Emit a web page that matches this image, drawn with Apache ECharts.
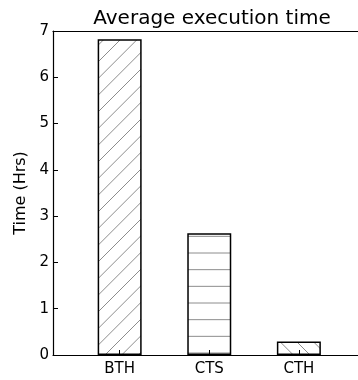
<!DOCTYPE html>
<html>
<head>
<meta charset="utf-8">
<script src="https://cdn.jsdelivr.net/npm/echarts@6/dist/echarts.min.js"></script>
<style>
html,body{margin:0;padding:0;background:#fff;}
#chart{width:358px;height:380px;}
</style>
</head>
<body>
<div id="chart"></div>
<script>
const categories = ['BTH', 'CTS', 'CTH'];
const times = [6.82, 2.63, 0.29];
const hatches = ['/', '-', '\\'];
const yTicks = [0, 1, 2, 3, 4, 5, 6, 7];

function makeHatch(kind) {
  const c = document.createElement('canvas');
  c.width = 100; c.height = 100;
  const g = c.getContext('2d');
  g.fillStyle = '#ffffff';
  g.fillRect(0, 0, 100, 100);
  g.strokeStyle = '#8c8c8c';
  g.lineWidth = 1;
  const step = 100 / 6;
  g.beginPath();
  if (kind === '-') {
    for (let k = 0; k < 6; k++) {
      const y = 3 + k * step;
      g.moveTo(0, y); g.lineTo(100, y);
    }
  } else if (kind === '/') {
    for (let k = -7; k < 14; k++) {
      const cc = 10 + k * step;
      g.moveTo(cc, 0); g.lineTo(cc - 100, 100);
    }
  } else {
    for (let k = -7; k < 14; k++) {
      const cc = 5 + k * step;
      g.moveTo(cc, 0); g.lineTo(cc + 100, 100);
    }
  }
  g.stroke();
  return { image: c, repeat: 'repeat' };
}

const chart = echarts.init(document.getElementById('chart'), null, { renderer: 'canvas' });
const font = 'DejaVu Sans';
chart.setOption({
  animation: false,
  backgroundColor: '#ffffff',
  title: {
    text: 'Average execution time',
    left: 207,
    top: 4,
    textAlign: 'center',
    textStyle: { fontFamily: font, fontSize: 20, fontWeight: 'normal', color: '#000' }
  },
  grid: {
    left: 53, top: 31, bottom: 25, right: 0,
    show: false
  },
  xAxis: [{
    type: 'value',
    min: -0.744,
    max: 2.66,
    z: 5,
    splitLine: { show: false },
    axisLine: { onZero: false, lineStyle: { color: '#000', width: 1.2 } },
    axisTick: { inside: true, length: 5, lineStyle: { color: '#000' }, customValues: [0, 1, 2] },
    axisLabel: {
      customValues: [0, 1, 2],
      margin: 7,
      fontFamily: font, fontSize: 15, color: '#000',
      formatter: v => categories[Math.round(v)] || ''
    }
  }, {
    type: 'value',
    position: 'top',
    min: -0.744,
    max: 2.66,
    z: 5,
    splitLine: { show: false },
    axisLine: { show: true, onZero: false, lineStyle: { color: '#000', width: 1.2 } },
    axisTick: { show: false },
    axisLabel: { show: false }
  }],
  yAxis: {
    type: 'value',
    min: 0, max: 7, interval: 1,
    z: 5,
    name: 'Time (Hrs)',
    nameLocation: 'middle',
    nameGap: 24,
    nameTextStyle: { fontFamily: font, fontSize: 16, color: '#000' },
    splitLine: { show: false },
    axisLine: { show: true, onZero: false, lineStyle: { color: '#000', width: 1.2 } },
    axisTick: { inside: true, length: 5, lineStyle: { color: '#000' } },
    axisLabel: { margin: 4, fontFamily: font, fontSize: 15, color: '#000',
      formatter: v => yTicks.includes(v) ? String(v) : '' }
  },
  series: [{
    type: 'bar',
    barWidth: 44,
    xAxisIndex: 0,
    data: times.map((v, i) => ({
      value: [i, v],
      itemStyle: { color: makeHatch(hatches[i]), borderColor: '#000', borderWidth: 1.5 }
    }))
  }]
});
</script>
</body>
</html>
